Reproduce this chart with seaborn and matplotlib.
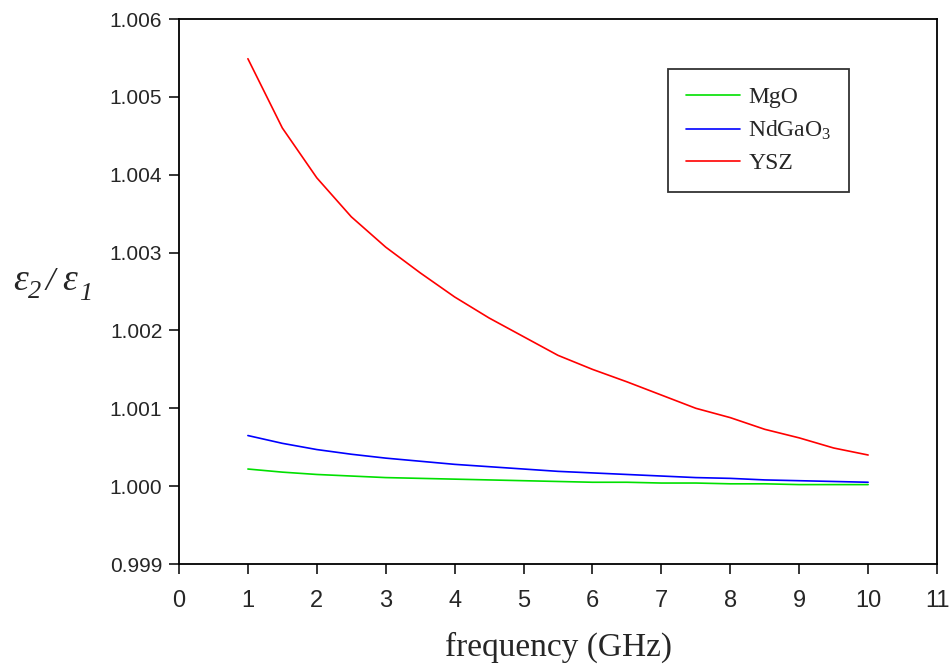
import numpy as np
import pandas as pd
import matplotlib
matplotlib.use("Agg")
import matplotlib.pyplot as plt
import seaborn as sns

sns.set_style("ticks")
plt.rcParams["font.family"] = ["Liberation Sans", "DejaVu Sans"]
plt.rcParams["mathtext.fontset"] = "custom"
plt.rcParams["mathtext.rm"] = "Liberation Serif"
plt.rcParams["mathtext.it"] = "Liberation Serif:italic"

freq = [1, 1.5, 2, 2.5, 3, 3.5, 4, 4.5, 5, 5.5, 6, 6.5, 7, 7.5, 8, 8.5, 9, 9.5, 10]
mgo = [1.00022, 1.00018, 1.00015, 1.00013, 1.00011, 1.00010, 1.00009, 1.00008, 1.00007,
       1.00006, 1.00005, 1.00005, 1.00004, 1.00004, 1.00003, 1.00003, 1.00002, 1.00002, 1.00002]
ndgao3 = [1.00065, 1.00055, 1.00047, 1.00041, 1.00036, 1.00032, 1.00028, 1.00025, 1.00022,
          1.00019, 1.00017, 1.00015, 1.00013, 1.00011, 1.00010, 1.00008, 1.00007, 1.00006, 1.00005]
ysz = [1.00549, 1.00460, 1.00396, 1.00346, 1.00307, 1.00274, 1.00243, 1.00216, 1.00192,
       1.00168, 1.00150, 1.00134, 1.00117, 1.00100, 1.00088, 1.00073, 1.00062, 1.00049, 1.00040]
labels = ["MgO", r"NdGaO$_3$", "YSZ"]
colors = ["#00e000", "#0000ff", "#ff0000"]
yticks = [0.999, 1.000, 1.001, 1.002, 1.003, 1.004, 1.005, 1.006]

df = pd.DataFrame({
    "freq": freq * 3,
    "ratio": mgo + ndgao3 + ysz,
    "material": [labels[0]] * len(freq) + [labels[1]] * len(freq) + [labels[2]] * len(freq),
})

W, H = 949, 670
fig = plt.figure(figsize=(W / 100, H / 100), dpi=100)
ax = fig.add_axes([0.1886, 0.1582, 0.7988, 0.8134])

sns.lineplot(data=df, x="freq", y="ratio", hue="material", hue_order=labels,
             palette=colors, linewidth=1.2, ax=ax, legend=True)

ax.set_xlim(0, 11)
ax.set_ylim(0.999, 1.006)
ax.set_xticks(range(0, 12))
ax.set_yticks(yticks)
ax.set_yticklabels([f"{v:.3f}" for v in yticks], fontsize=15)
ax.tick_params(axis="x", labelsize=17, length=7, width=1.3, direction="out", pad=12)
ax.tick_params(axis="y", length=7, width=1.3, direction="out", pad=5)
for s in ax.spines.values():
    s.set_linewidth(1.3)
    s.set_color("black")

ax.set_xlabel("frequency (GHz)", fontsize=24, family="Liberation Serif", labelpad=14)
ax.set_ylabel("")

# y label: eps_2 / eps_1, italic serif with italic subscripts
ylab_parts = [("ε", 13, 290, 27), ("2", 28, 298, 19), ("/", 46, 290, 24),
              ("ε", 62, 290, 27), ("1", 79, 300, 19)]
for txt, px, py, fs in ylab_parts:
    fig.text(px / W, 1 - py / H, txt, fontsize=fs, family="Liberation Serif",
             style="italic", ha="left", va="baseline")

leg = ax.legend(loc="upper left", bbox_to_anchor=(0.645, 0.908), frameon=True, fancybox=False,
                edgecolor="black", prop={"family": "Liberation Serif", "size": 17},
                handlelength=2.3, borderpad=0.75, labelspacing=0.45, handletextpad=0.35,
                borderaxespad=0)
leg.get_frame().set_linewidth(1.3)

fig.savefig("out.png", dpi=100)
